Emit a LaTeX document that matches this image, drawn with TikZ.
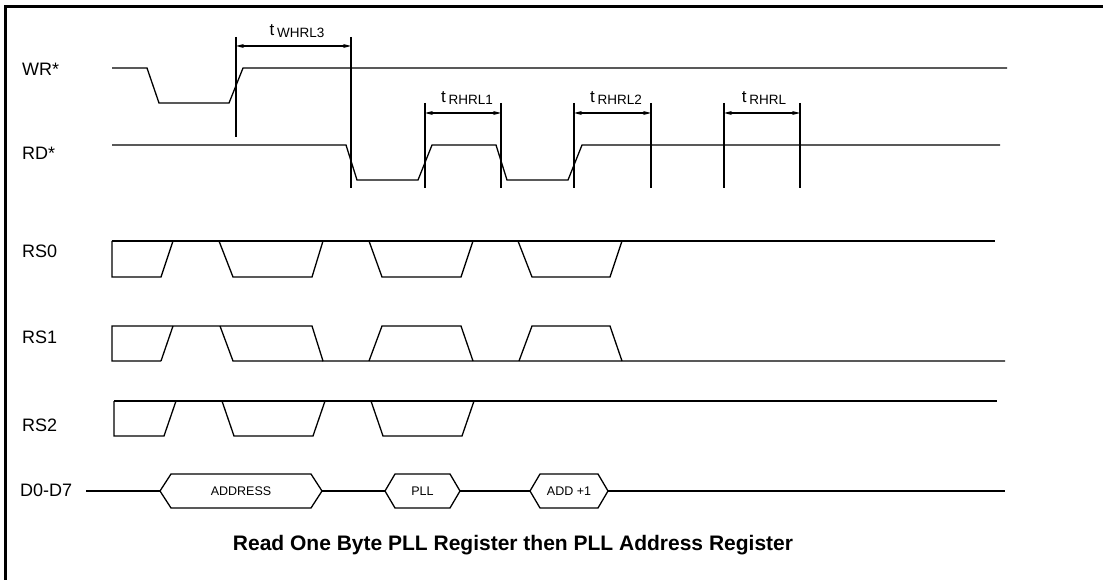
\documentclass[tikz,border=0pt]{standalone}
\usepackage{fontspec}
\setmainfont{Liberation Sans}
\usetikzlibrary{arrows.meta}
\tikzset{
  sig/.style={line width=1.3pt, line join=miter},
  tickline/.style={line width=1.2pt},
  dimarrow/.style={line width=1.1pt, {Stealth[length=8pt,width=4pt]}-{Stealth[length=8pt,width=4pt]}},
  siglabel/.style={font=\fontsize{18}{21}\selectfont, anchor=west, inner sep=0pt},
  hexlabel/.style={font=\fontsize{12.5}{14}\selectfont, inner sep=0pt},
  tlabel/.style={font=\fontsize{17}{20}\selectfont, anchor=base, inner sep=0pt}
}
\newcommand{\tsub}[1]{t\,\raisebox{-2pt}{\fontsize{13.5}{15}\selectfont #1}}
\begin{document}
\begin{tikzpicture}[x=1pt,y=-1pt]
\useasboundingbox (0,0) rectangle (1103,580);
% frame
\draw[line width=2.6pt] (5.5,585) -- (5.5,6.5) -- (1103,6.5);

% WR*
\draw(22,69) node[siglabel] (wr) {WR*};
\draw[sig] (112,68) -- (147,68) -- (159,103) -- (229,103) -- (243,68) -- (1007,68);

% RD*
\draw(22,153) node[siglabel] (rd) {RD*};
\draw[sig] (112,145) -- (346,145) -- (357,180) -- (418,180) -- (432,145) -- (496,145)
  -- (507,180) -- (568,180) -- (582,145) -- (1000,145);

% t WHRL3
\coordinate (w1) at (236,37);
\coordinate (w2) at (351,37);
\draw[tickline] (w1) -- (236,137);
\draw[tickline] (w2) -- (351,188);
\coordinate (wa) at (236,46);
\coordinate (wb) at (351,46);
\draw[dimarrow] (wa) -- (wb);
\draw(297,36) node[tlabel] (twhrl) {\tsub{WHRL3}};

% t RHRL1
\coordinate (a1) at (425,103);
\coordinate (a2) at (501,103);
\draw[tickline] (a1) -- (425,188);
\draw[tickline] (a2) -- (501,188);
\coordinate (aa) at (425,113);
\coordinate (ab) at (501,113);
\draw[dimarrow] (aa) -- (ab);
\draw(467,103) node[tlabel] (trhrla) {\tsub{RHRL1}};

% t RHRL2
\coordinate (b1) at (574,103);
\coordinate (b2) at (651,103);
\draw[tickline] (b1) -- (574,188);
\draw[tickline] (b2) -- (651,188);
\coordinate (ba) at (574,113);
\coordinate (bb) at (651,113);
\draw[dimarrow] (ba) -- (bb);
\draw(616,103) node[tlabel] (trhrlb) {\tsub{RHRL2}};

% t RHRL
\coordinate (c1) at (724,103);
\coordinate (c2) at (800,103);
\draw[tickline] (c1) -- (724,188);
\draw[tickline] (c2) -- (800,188);
\coordinate (ca) at (724,113);
\coordinate (cb) at (800,113);
\draw[dimarrow] (ca) -- (cb);
\draw(764,103) node[tlabel] (trhrl) {\tsub{RHRL}};

% RS0
\draw(22,251) node[siglabel] (rs0) {RS0};
\draw[sig] (112,241) -- (995,241);
\draw[sig] (112,241) -- (112,277) -- (161,277) -- (173,241);
\draw[sig] (219,241) -- (233,277) -- (312,277) -- (323,241);
\draw[sig] (369,241) -- (382,277) -- (461,277) -- (473,241);
\draw[sig] (518,241) -- (532,277) -- (610,277) -- (622,241);

% RS1
\draw(22,337) node[siglabel] (rs1) {RS1};
\draw[sig] (161,361) -- (112,361) -- (112,326) -- (312,326) -- (323,361) -- (1005,361);
\draw[sig] (161,361) -- (173,326);
\draw[sig] (220,326) -- (233,361) -- (323,361);
\draw[sig] (369,361) -- (382,326) -- (461,326) -- (473,361);
\draw[sig] (519,361) -- (532,326) -- (610,326) -- (622,361);

% RS2
\draw(22,425) node[siglabel] (rs2) {RS2};
\draw[sig] (114,401) -- (997,401);
\draw[sig] (114,401) -- (114,436) -- (164,436) -- (176,401);
\draw[sig] (222,401) -- (234,436) -- (313,436) -- (325,401);
\draw[sig] (371,401) -- (383,436) -- (462,436) -- (474,401);

% D0-D7
\draw(20,490) node[siglabel] (data) {D0-D7};
\draw[sig] (86,491) -- (160,491);
\draw[sig] (160,491) -- (171,474) -- (311,474) -- (322,491) -- (311,508) -- (171,508) -- cycle;
\draw(241,491) node[hexlabel] (addr) {ADDRESS};
\draw[sig] (322,491) -- (385,491);
\draw[sig] (385,491) -- (395,474) -- (450,474) -- (460,491) -- (450,508) -- (395,508) -- cycle;
\draw(422.5,491) node[hexlabel] (pll) {PLL};
\draw[sig] (460,491) -- (530,491);
\draw[sig] (530,491) -- (540,474) -- (598,474) -- (608,491) -- (598,508) -- (540,508) -- cycle;
\draw(569,491) node[hexlabel] (addone) {ADD +1};
\draw[sig] (608,491) -- (1005,491);

% title
\draw(513,545) node[font=\bfseries\fontsize{21}{25}\selectfont] (title) {Read One Byte PLL Register then PLL Address Register};
\end{tikzpicture}
\end{document}
